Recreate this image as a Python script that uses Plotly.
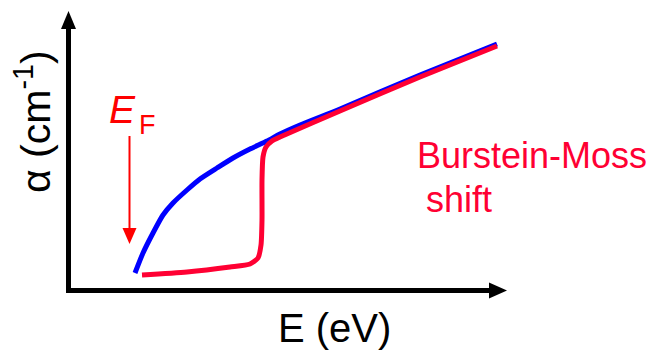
import plotly.graph_objects as go

# Schematic data (arbitrary units): absorption coefficient vs photon energy
E_intrinsic = [0.65, 0.73, 0.83, 0.93, 1.03, 1.17, 1.30, 1.47, 1.63, 1.80, 1.97, 2.10, 2.30, 2.70, 3.50, 4.27]
alpha_intrinsic = [0.17, 0.37, 0.57, 0.75, 0.87, 1.00, 1.11, 1.22, 1.32, 1.41, 1.49, 1.56, 1.65, 1.81, 2.15, 2.46]

E_doped = [0.72, 1.17, 1.60, 1.80, 1.88, 1.91, 1.92, 1.92, 1.93, 1.96, 2.02, 2.10, 2.70, 3.50, 4.27]
alpha_doped = [0.15, 0.18, 0.23, 0.26, 0.32, 0.45, 0.70, 1.10, 1.33, 1.43, 1.49, 1.53, 1.79, 2.13, 2.44]

x_label = "E (eV)"
y_label = "α (cm<sup>-1</sup>)"
shift_label = ["Burstein-Moss", "shift"]

FONT = "Liberation Sans, Arial, sans-serif"
BLUE = "#0000ff"
RED = "#ff0033"

fig = go.Figure()
fig.add_trace(go.Scatter(x=E_intrinsic, y=alpha_intrinsic, mode="lines",
                         line=dict(color=BLUE, width=5, shape="spline", smoothing=0.6),
                         hoverinfo="skip", showlegend=False))
fig.add_trace(go.Scatter(x=E_doped, y=alpha_doped, mode="lines",
                         line=dict(color=RED, width=5, shape="spline", smoothing=0.6),
                         hoverinfo="skip", showlegend=False))

# 100 px per unit, origin at pixel (70, 290)
def P(xp, yp):
    return (xp - 70) / 100.0, (290 - yp) / 100.0

shapes = []
# y axis with arrow
x0, y0 = P(68.5, 292)
x1, y1 = P(68.5, 26)
shapes.append(dict(type="line", x0=x0, y0=y0, x1=x1, y1=y1, line=dict(color="black", width=5)))
a, b = P(61, 29); c, d = P(76, 29); e, f = P(68.5, 11)
shapes.append(dict(type="path", path=f"M{a},{b} L{c},{d} L{e},{f} Z", fillcolor="black", line=dict(width=0)))
# x axis with arrow
x0, y0 = P(66, 290.5)
x1, y1 = P(492, 290.5)
shapes.append(dict(type="line", x0=x0, y0=y0, x1=x1, y1=y1, line=dict(color="black", width=5)))
a, b = P(489, 282.5); c, d = P(489, 298.5); e, f = P(507, 290.5)
shapes.append(dict(type="path", path=f"M{a},{b} L{c},{d} L{e},{f} Z", fillcolor="black", line=dict(width=0)))
# E_F arrow
x0, y0 = P(129.5, 136)
x1, y1 = P(129.5, 232)
shapes.append(dict(type="line", x0=x0, y0=y0, x1=x1, y1=y1, line=dict(color="#ff0000", width=2)))
a, b = P(122.5, 228); c, d = P(136.5, 228); e, f = P(129.5, 244)
shapes.append(dict(type="path", path=f"M{a},{b} L{c},{d} L{e},{f} Z", fillcolor="#ff0000", line=dict(width=0)))

annotations = []
ax, ay = P(334, 328)
annotations.append(dict(x=ax, y=ay, text=x_label, showarrow=False, xanchor="center", yanchor="middle",
                        font=dict(family=FONT, size=40, color="black")))
ax, ay = P(33, 122)
annotations.append(dict(x=ax, y=ay, text=y_label, showarrow=False, textangle=-90, xanchor="center", yanchor="middle",
                        font=dict(family=FONT, size=41, color="black")))
ax, ay = P(415, 155)
annotations.append(dict(x=ax, y=ay, text=shift_label[0], showarrow=False, xanchor="left", yanchor="middle",
                        font=dict(family=FONT, size=36, color=RED)))
ax, ay = P(424, 199)
annotations.append(dict(x=ax, y=ay, text=shift_label[1], showarrow=False, xanchor="left", yanchor="middle",
                        font=dict(family=FONT, size=36, color=RED)))
ax, ay = P(107, 109)
annotations.append(dict(x=ax, y=ay, text="<i>E</i>", showarrow=False, xanchor="left", yanchor="middle",
                        font=dict(family=FONT, size=39, color="#ff0000")))
ax, ay = P(137, 125)
annotations.append(dict(x=ax, y=ay, text="F", showarrow=False, xanchor="left", yanchor="middle",
                        font=dict(family=FONT, size=27, color="#ff0000")))

fig.update_layout(
    width=658, height=354,
    margin=dict(l=0, r=0, t=0, b=0),
    paper_bgcolor="white", plot_bgcolor="white",
    xaxis=dict(range=[-0.70, 5.88], visible=False, fixedrange=True),
    yaxis=dict(range=[-0.64, 2.90], visible=False, fixedrange=True),
    shapes=shapes, annotations=annotations,
)
fig.write_html("out.html", config={"displayModeBar": False},
               post_script="document.body.style.margin='0';document.body.style.padding='0';")
